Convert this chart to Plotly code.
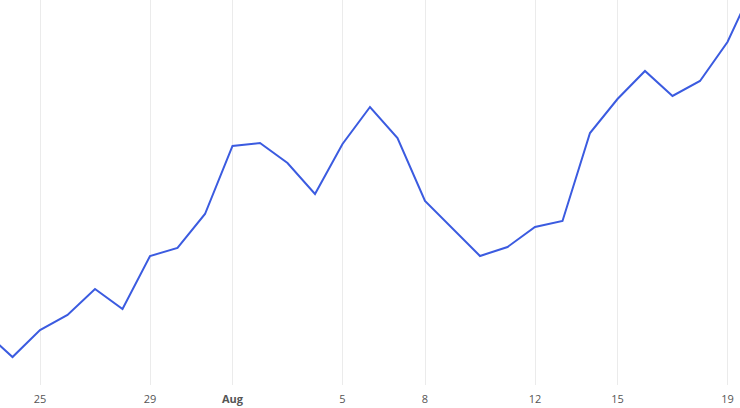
import plotly.graph_objects as go
import pandas as pd

dates = pd.date_range("2023-07-23", "2023-08-20", freq="D").strftime("%Y-%m-%d").tolist()
values = [53, 28, 55, 70, 96, 76, 129, 137, 171, 239, 242, 222, 191, 241, 278, 247,
          184, 156, 129, 138, 158, 164, 252, 286, 314, 289, 304, 343, 402]

tick_vals = ["2023-07-25", "2023-07-29", "2023-08-01", "2023-08-05", "2023-08-08",
             "2023-08-12", "2023-08-15", "2023-08-19"]
tick_text = ["25", "29", "<b>Aug</b>", "5", "8", "12", "15", "19"]

fig = go.Figure(go.Scatter(x=dates, y=values, mode="lines",
                           line=dict(color="#3b5be0", width=2)))
fig.update_layout(
    width=740, height=408,
    margin=dict(l=0, r=0, t=0, b=23, autoexpand=False),
    paper_bgcolor="white", plot_bgcolor="white",
    showlegend=False,
    font=dict(family="Open Sans", size=11, color="#555"),
)
fig.update_xaxes(
    range=["2023-07-23 13:05", "2023-08-19 10:55"],
    tickvals=tick_vals, ticktext=tick_text,
    showgrid=True, gridcolor="#ebebeb", gridwidth=1,
    zeroline=False, showline=False, ticks="", automargin=False,
    ticklabelstandoff=6,
)
fig.update_yaxes(range=[0, 385], visible=False, showgrid=False, zeroline=False,
                 automargin=False)
fig.write_html(
    "out.html",
    config={"displayModeBar": False},
    post_script="document.body.style.margin='0';document.body.style.overflow='hidden';",
)
